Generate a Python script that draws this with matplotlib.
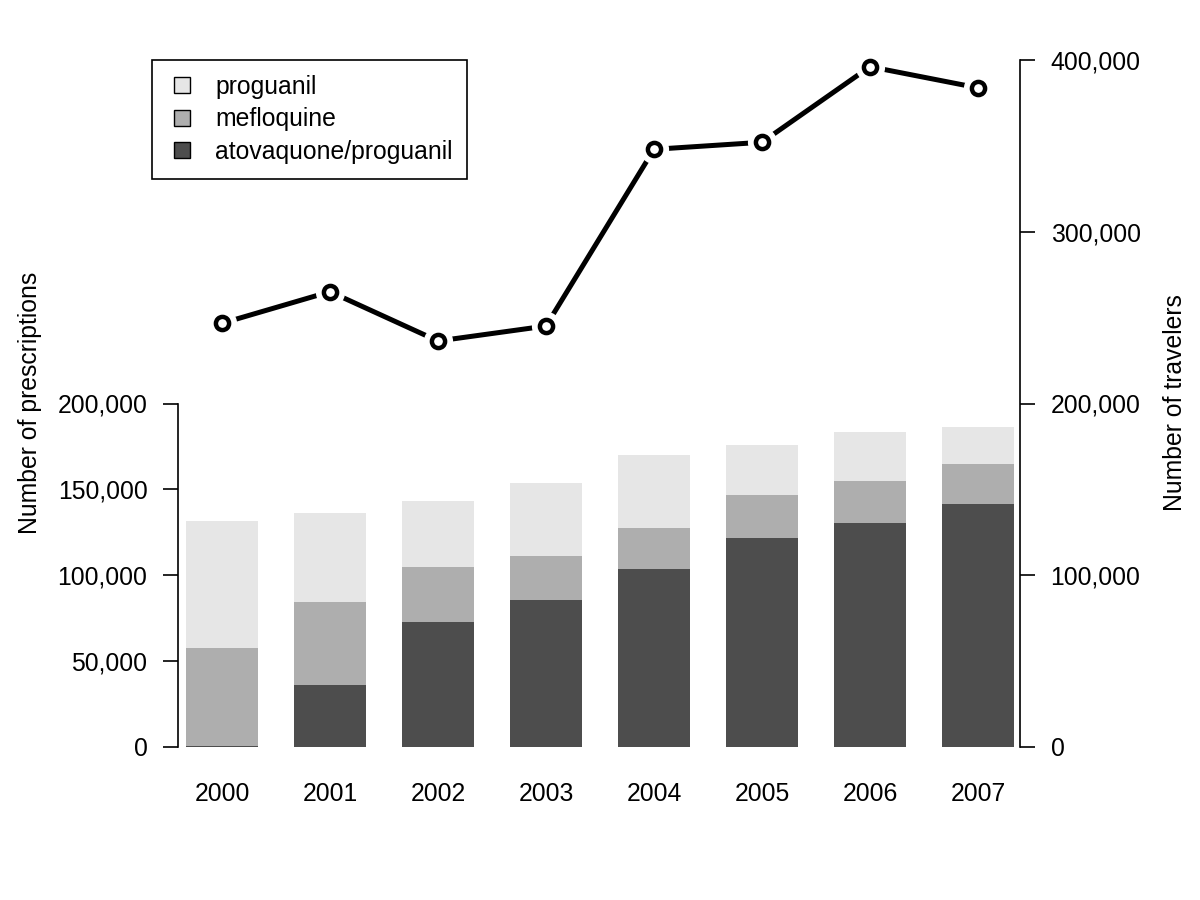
import matplotlib.pyplot as plt
from matplotlib.lines import Line2D
from matplotlib.ticker import FuncFormatter

plt.rcParams['font.family'] = ['Liberation Sans', 'DejaVu Sans']

years = ['2000', '2001', '2002', '2003', '2004', '2005', '2006', '2007']
atovaquone = [600, 35900, 72600, 85400, 103800, 121700, 130400, 141300]
mefloquine = [57000, 48500, 32400, 26000, 23500, 24800, 24300, 23500]
proguanil = [74000, 52000, 38200, 42300, 42700, 29300, 28500, 21300]
travelers = [246700, 265100, 236400, 245100, 348000, 352100, 396100, 383800]

colors = ['#4D4D4D', '#AEAEAE', '#E6E6E6']
fs = 17.8

fig = plt.figure(figsize=(12, 9), dpi=100)
ax = fig.add_axes([178 / 1200, 153 / 900, 842 / 1200, 687 / 900])

x = list(range(len(years)))
bottom2 = [a + m for a, m in zip(atovaquone, mefloquine)]
ax.bar(x, atovaquone, width=0.667, color=colors[0], linewidth=0)
ax.bar(x, mefloquine, width=0.667, bottom=atovaquone, color=colors[1], linewidth=0)
ax.bar(x, proguanil, width=0.667, bottom=bottom2, color=colors[2], linewidth=0)

ax.set_xlim(-0.407, 7.389)
ax.set_ylim(0, 400000)

fmt = FuncFormatter(lambda v, p: f'{int(v):,}')

# left axis only up to 200,000
for s in ['top', 'bottom', 'right']:
    ax.spines[s].set_visible(False)
ax.spines['left'].set_bounds(0, 200000)
ax.spines['left'].set_linewidth(1.2)
ax.set_yticks([0, 50000, 100000, 150000, 200000])
ax.yaxis.set_major_formatter(fmt)
ax.tick_params(axis='y', length=11, width=1.2, pad=11, labelsize=fs)
ax.set_xticks(x)
ax.set_xticklabels(years)
ax.tick_params(axis='x', length=0, pad=25.5, labelsize=fs)

# travelers on right axis
ax2 = ax.twinx()
ax2.set_ylim(0, 400000)
ax2.set_xlim(ax.get_xlim())
for s in ['top', 'bottom', 'left']:
    ax2.spines[s].set_visible(False)
ax2.spines['right'].set_linewidth(1.2)
ax2.set_yticks([0, 100000, 200000, 300000, 400000])
ax2.yaxis.set_major_formatter(fmt)
ax2.tick_params(axis='y', length=11, width=1.2, pad=11, labelsize=fs)

ax2.plot(x, travelers, color='black', linewidth=3.6, solid_capstyle='butt', clip_on=False)
ax2.plot(x, travelers, linestyle='none', marker='o', markersize=20, markerfacecolor='white',
         markeredgecolor='white', clip_on=False)
ax2.plot(x, travelers, linestyle='none', marker='o', markersize=9.5, markerfacecolor='white',
         markeredgecolor='black', markeredgewidth=3.2, clip_on=False)

fig.text(30 / 1200, 1 - 403 / 900, 'Number of prescriptions', rotation=90,
         ha='center', va='center', fontsize=fs)
fig.text(1175 / 1200, 1 - 403 / 900, 'Number of travelers', rotation=90,
         ha='center', va='center', fontsize=fs)

handles = [Line2D([], [], linestyle='none', marker='s', markersize=11.5,
                  markerfacecolor=c, markeredgecolor='black', markeredgewidth=1)
           for c in [colors[2], colors[1], colors[0]]]
leg = fig.legend(handles, ['proguanil', 'mefloquine', 'atovaquone/proguanil'],
                 loc='upper left', bbox_to_anchor=(152 / 1200, 1 - 60 / 900),
                 borderaxespad=0, fontsize=fs, fancybox=False, edgecolor='black',
                 framealpha=1, handlelength=1.2, handletextpad=0.75,
                 labelspacing=0.35, borderpad=0.6)
leg.get_frame().set_linewidth(1.2)

plt.savefig('out.png', dpi=100)
